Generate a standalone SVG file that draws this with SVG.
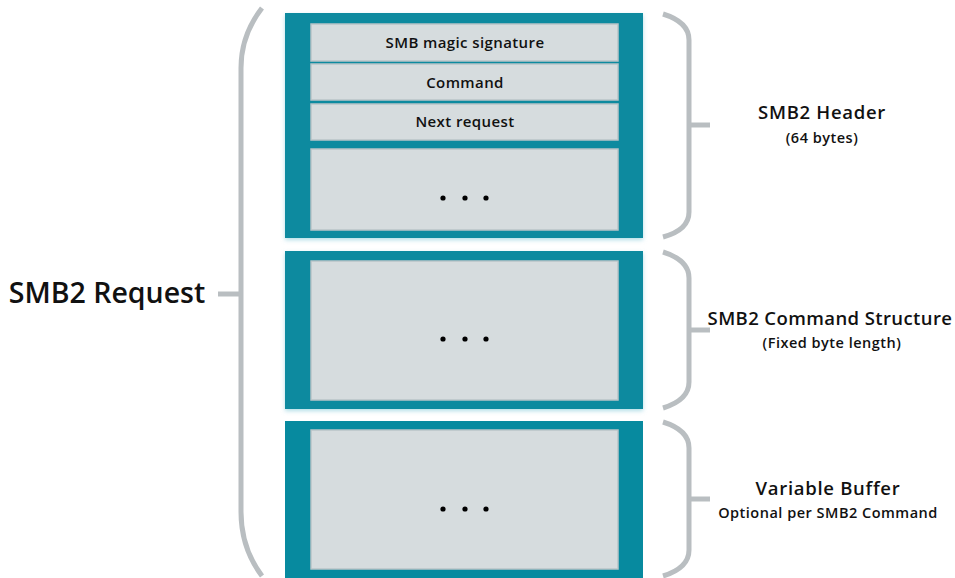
<svg xmlns="http://www.w3.org/2000/svg" width="955" height="578" viewBox="0 0 955 578">
  <style>
    .outer { fill: #078a9f; }
    .row { fill: #d6dcde; stroke: #b9c4c7; stroke-width: 1.5; }
    .brace { fill: none; stroke: #b9bec1; stroke-width: 5; stroke-linecap: butt; }
    .lbl { font-family: "Open Sans", "Liberation Sans", sans-serif; font-weight: 600; fill: #111; text-anchor: middle; }
    .row-lbl { font-size: 15px; letter-spacing: 0.4px; }
    .title { font-size: 18.5px; letter-spacing: 0.7px; }
    .sub { font-size: 14.5px; letter-spacing: 0.5px; }
    .dot { fill: #000; }
  </style>
  <defs>
    <filter id="glow" x="-5%" y="-5%" width="110%" height="115%">
      <feDropShadow dx="0" dy="2" stdDeviation="2" flood-color="#7fc8d6" flood-opacity="0.6"/>
    </filter>
  </defs>

  <!-- SMB2 header block -->
  <g id="header">
    <rect class="outer" x="285" y="13" width="358" height="225" filter="url(#glow)"/>
    <rect class="row" x="311" y="24" width="307" height="37"/>
    <text class="lbl row-lbl" x="465" y="48">SMB magic signature</text>
    <rect class="row" x="311" y="64" width="307" height="36"/>
    <text class="lbl row-lbl" x="465" y="88">Command</text>
    <rect class="row" x="311" y="104" width="307" height="36"/>
    <text class="lbl row-lbl" x="465" y="127">Next request</text>
    <rect class="row" x="311" y="149" width="307" height="81"/>
    <circle class="dot" cx="443" cy="198" r="2.6"/>
    <circle class="dot" cx="465" cy="198" r="2.6"/>
    <circle class="dot" cx="486" cy="198" r="2.6"/>
  </g>

  <!-- Command structure block -->
  <g id="command">
    <rect class="outer" x="285" y="251" width="358" height="158" filter="url(#glow)"/>
    <rect class="row" x="311" y="261" width="307" height="139"/>
    <circle class="dot" cx="443" cy="339" r="2.6"/>
    <circle class="dot" cx="465" cy="339" r="2.6"/>
    <circle class="dot" cx="486" cy="339" r="2.6"/>
  </g>

  <!-- Variable buffer block -->
  <g id="buffer">
    <rect class="outer" x="285" y="421" width="358" height="157"/>
    <rect class="row" x="311" y="430" width="307" height="139"/>
    <circle class="dot" cx="443" cy="509" r="2.6"/>
    <circle class="dot" cx="465" cy="509" r="2.6"/>
    <circle class="dot" cx="486" cy="509" r="2.6"/>
  </g>

  <!-- Braces -->
  <g id="connectors">
    <path class="brace" d="M262,8 Q241,35 241,68 L241,512 Q241,548 262,576"/>
    <path class="brace" d="M218,294 L241,294"/>
    <path class="brace" d="M663,14 Q689,22 689,40 L689,212 Q689,230 663,237"/>
    <path class="brace" d="M689,125 L710,125"/>
    <path class="brace" d="M663,252 Q689,260 689,278 L689,382 Q689,400 663,408"/>
    <path class="brace" d="M689,330 L710,330"/>
    <path class="brace" d="M663,422 Q689,430 689,448 L689,550 Q689,568 663,576"/>
    <path class="brace" d="M689,499 L710,499"/>
  </g>

  <!-- Labels -->
  <g id="request-label">
    <text class="lbl" x="107" y="303" font-size="28.5">SMB2 Request</text>
  </g>
  <g id="header-label">
    <text class="lbl title" x="822" y="119">SMB2 Header</text>
    <text class="lbl sub" x="822" y="143">(64 bytes)</text>
  </g>
  <g id="command-label">
    <text class="lbl title" x="830" y="325" style="letter-spacing:0.4px">SMB2 Command Structure</text>
    <text class="lbl sub" x="832" y="348">(Fixed byte length)</text>
  </g>
  <g id="buffer-label">
    <text class="lbl title" x="828" y="495">Variable Buffer</text>
    <text class="lbl sub" x="828" y="518">Optional per SMB2 Command</text>
  </g>
</svg>
